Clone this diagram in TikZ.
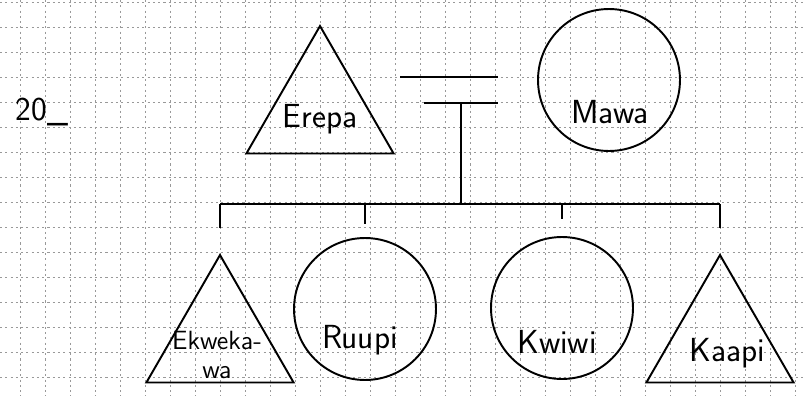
\documentclass[tikz,border=0pt]{standalone}
\usetikzlibrary{shapes.geometric,calc}

\begin{document}
\begin{tikzpicture}[
                x=0.02cm, y=-0.02cm,
                line width=1.1pt,
                male/.style={
                        draw,
                        regular polygon,
                        regular polygon sides=3,
                        minimum size=3.4cm,
                        inner sep=0pt, outer sep=0pt
                    },
                female/.style={draw, circle, minimum size=2.84cm, inner sep=0pt, outer sep=0pt},
                personname/.style={font=\sffamily\fontsize{19}{21}\selectfont, align=center},
                gridline/.style={line width=0.5pt, black!40, dash pattern=on 1.2pt off 1.8pt}
            ]
            \useasboundingbox (0,0) rectangle (805,396);

            % Papel cuadriculado
            \foreach \gx in {20,45,...,795}
                \draw[gridline] (\gx,0) -- (\gx,396);
            \foreach \gy in {2,27,...,377}
                \draw[gridline] (0,\gy) -- (805,\gy);

            % Padres
            \node[personname] (gen) at (42,112) {20\_};
            \node[male]   (erepa) at (320,111) {};
            \node[female] (mawa)  at (609,80) {};
            \node[personname] at (320,119) {Erepa};
            \node[personname] at (610,112) {Mawa};

            % Matrimonio
            \coordinate (wedA) at (400,77);
            \coordinate (wedB) at (498,77);
            \coordinate (wedC) at (424,103);
            \coordinate (wedD) at (498,103);
            \coordinate (wedmid) at (461,103);
            \coordinate (sibbar) at (461,204);
            \draw (wedA) -- (wedB);
            \draw (wedC) -- (wedD);
            \draw (wedmid) -- (sibbar);

            % Hijos
            \node[male]   (ekwekawa) at (220,340) {};
            \node[female] (ruupi)    at (365,309) {};
            \node[female] (kwiwi)    at (562,308) {};
            \node[male]   (kaapi)    at (720,340) {};
            \node[personname, font=\sffamily\fontsize{15}{17}\selectfont] at (217,355) {Ekweka-\\wa};
            \node[personname] at (360,340) {Ruupi};
            \node[personname] at (557,342) {Kwiwi};
            \node[personname] at (727,353) {Kaapi};

            \draw (ekwekawa.corner 1 |- sibbar) -- (kaapi.corner 1 |- sibbar);
            \foreach \kid/\gap in {ekwekawa.corner 1/27, ruupi.north/14, kwiwi.north/18, kaapi.corner 1/27}
                \draw (\kid |- sibbar) -- ($(\kid)+(0,-\gap)$);

        \end{tikzpicture}
\end{document}
